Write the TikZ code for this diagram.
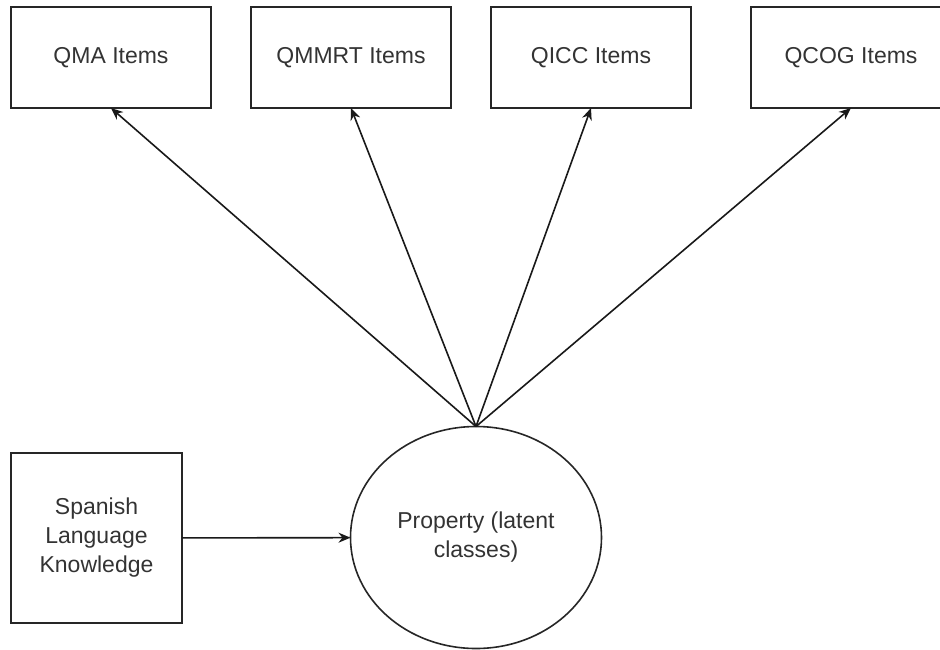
\documentclass[tikz,border=0pt]{standalone}
\usepackage{fontspec}
\setmainfont{Liberation Sans}
\usepackage{tikz}
\usetikzlibrary{positioning,shapes,arrows.meta,calc}

\begin{document}
\begin{tikzpicture}[
    x=1pt, y=-1pt,
    every node/.style={draw=black!85, line width=1.6pt, outer sep=0pt, align=center,
        text=black!80, font=\fontsize{23}{29}\selectfont},
    itembox/.style={rectangle, minimum width=200pt, minimum height=101pt},
    arr/.style={draw=black!90, line width=1.6pt, -{Stealth[length=12pt,width=10pt]}}
]
\useasboundingbox (0,0) rectangle (940,649);
\clip (0,0) rectangle (940,649);
% indicator boxes
\node[itembox] (qma) at (111,57.5) {QMA Items};
\node[itembox, right=40pt of qma] (qmmrt) {QMMRT Items};
\node[itembox, right=40pt of qmmrt] (qicc) {QICC Items};
\node[itembox, right=60pt of qicc] (qcog) {QCOG Items};
% latent variable and covariate
\node[ellipse, minimum width=251pt, minimum height=222pt, inner sep=0pt] (prop) at (476,537.5) {Property (latent\\classes)};
\node[rectangle, minimum width=171pt, minimum height=170pt] (lang) at (96.5,538) {Spanish\\Language\\Knowledge};
\draw[arr] (lang) -- (prop);
\foreach \t in {qma,qmmrt,qicc,qcog}
    \draw[arr] (prop.north) -- (\t.south);
\end{tikzpicture}
\end{document}
